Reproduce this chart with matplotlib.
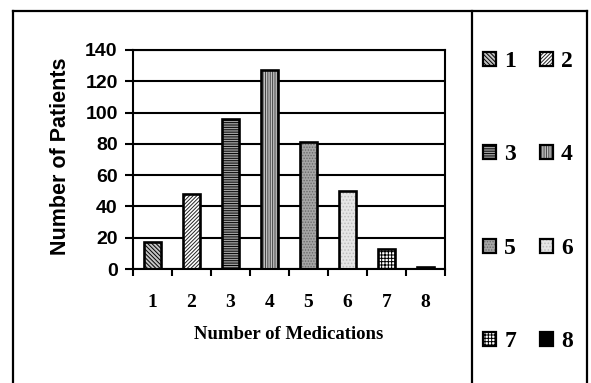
import matplotlib
matplotlib.use("Agg")
import matplotlib.pyplot as plt
from matplotlib.patches import Patch
from matplotlib.lines import Line2D
from matplotlib.legend_handler import HandlerTuple

# Data
medications = [1, 2, 3, 4, 5, 6, 7, 8]
patients = [17, 48, 96, 127, 81, 50, 13, 1]
y_ticks = [0, 20, 40, 60, 80, 100, 120, 140]

# Fill styles for each category: (face colour, hatch, hatch colour)
styles = [
    ("#c4c4c4", "\\" * 8, "black"),
    ("white", "/" * 9, "#222222"),
    ("#a0a0a0", "-" * 7, "black"),
    ("#c2c2c2", "|" * 7, "#444444"),
    ("#a6a6a6", "." * 6, "#6a6a6a"),
    ("#e6e6e6", "." * 5, "#bdbdbd"),
    ("white", "+" * 5, "black"),
    ("black", "", "black"),
]

plt.rcParams["hatch.linewidth"] = 0.7
SANS = "Liberation Sans"
SERIF = "Liberation Serif"

W, H = 591, 383
fig = plt.figure(figsize=(W / 100, H / 100), dpi=100)

# Outer frame and legend divider
lw_frame = 1.6
def fig_line(xs, ys):
    fig.add_artist(Line2D([x / W for x in xs], [1 - y / H for y in ys],
                          transform=fig.transFigure, color="black",
                          lw=lw_frame, solid_capstyle="projecting"))

fig_line([13, 587], [11, 11])
fig_line([13, 13], [11, 383])
fig_line([472, 472], [11, 383])
fig_line([587, 587], [11, 383])

# Plot area
x0, x1, ytop, ybot = 133, 445, 50, 269
ax = fig.add_axes([x0 / W, 1 - ybot / H, (x1 - x0) / W, (ybot - ytop) / H])
ax.set_xlim(0.5, 8.5)
ax.set_ylim(0, 140)
ax.set_axisbelow(True)
ax.yaxis.grid(True, color="black", lw=1.5)

bar_w = 0.42
handles = []
for m, v, (fc, hatch, hc) in zip(medications, patients, styles):
    ax.bar(m, v, width=bar_w, color=fc, hatch=hatch,
           edgecolor=hc, linewidth=0, zorder=2)
    ax.bar(m, v, width=bar_w, fill=False,
           edgecolor="black", linewidth=1.9, zorder=3)
    fp = Patch(facecolor=fc, hatch=hatch, edgecolor=hc, linewidth=0)
    ep = Patch(fill=False, edgecolor="black", linewidth=1.6)
    handles.append((fp, ep))

for s in ax.spines.values():
    s.set_linewidth(1.5)

ax.set_yticks(y_ticks)
ax.set_yticklabels([str(t) for t in y_ticks], fontfamily=SANS,
                   fontweight="bold", fontsize=14)
ax.tick_params(axis="y", direction="out", length=6, width=1.5, pad=5)

ax.set_xticks(medications)
ax.set_xticklabels([str(m) for m in medications], fontfamily=SERIF,
                   fontweight="bold", fontsize=14)
ax.set_xticks([m + 0.5 for m in [0] + medications], minor=True)
ax.tick_params(axis="x", which="major", length=0, pad=18)
ax.tick_params(axis="x", which="minor", direction="out", length=5, width=1.5)

ax.set_ylabel("Number of Patients", fontfamily=SANS, fontweight="bold",
              fontsize=15.5)
ax.yaxis.set_label_coords(-0.2, 0.516)
ax.set_xlabel("Number of Medications", fontfamily=SERIF, fontweight="bold",
              fontsize=13.5)
ax.xaxis.set_label_coords(0.5, -0.26)

# Legend in the right-hand panel, two entries per row
order = [0, 2, 4, 6, 1, 3, 5, 7]
leg = fig.legend([handles[i] for i in order],
                 [str(medications[i]) for i in order],
                 handler_map={tuple: HandlerTuple(ndivide=1, pad=0)},
                 ncol=2, loc="upper left",
                 bbox_to_anchor=(483 / W, 1 - 51 / H),
                 frameon=False, borderpad=0, borderaxespad=0,
                 handlelength=0.55, handleheight=0.55, handletextpad=0.35,
                 columnspacing=1.0, labelspacing=3.07,
                 prop={"family": SERIF, "weight": "bold", "size": 17})

fig.savefig("out.png", dpi=100)
